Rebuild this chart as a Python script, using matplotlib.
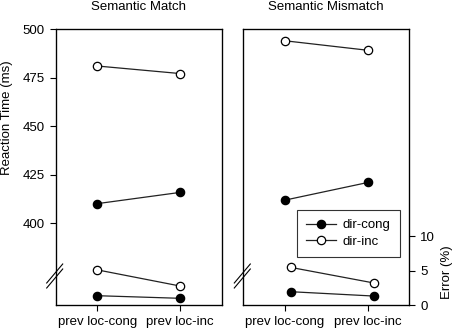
import matplotlib
matplotlib.use('Agg')
from matplotlib import pyplot as plt

plt.rcParams['font.family'] = ['Liberation Sans', 'DejaVu Sans']
plt.rcParams['font.size'] = 9.5

conds = ['prev loc-cong', 'prev loc-inc']
panels = ['Semantic Match', 'Semantic Mismatch']

# reaction times (ms)
rt_cong = [[410.2, 416.0], [412.0, 421.1]]
rt_inc = [[481.1, 477.2], [494.1, 489.2]]

# error rates (%)
err_cong = [[1.35, 0.97], [1.93, 1.3]]
err_inc = [[5.1, 2.75], [5.46, 3.2]]

x = [1, 2]
err_shift = [0.0, 0.07]

W, H = 454.0, 332.0
fig = plt.figure(figsize=(W / 100, H / 100), dpi=100)
lefts = [55.7, 243.3]
bot, top = 305.0, 29.3
aw = 166.0
ah = bot - top

line_kw = dict(color='#222222', lw=0.9, ms=6, mec='black', mew=0.9)

for i in range(2):
    ax = fig.add_axes([lefts[i] / W, (H - bot) / H, aw / W, ah / H])
    ax.set_xlim(0.5, 2.5)
    ax.set_ylim(358, 500)
    ax.set_xticks(x)
    ax.set_xticklabels(conds)
    ax.tick_params(direction='out', length=4, width=0.8, pad=4)
    for s in ax.spines.values():
        s.set_linewidth(0.9)

    ax.plot(x, rt_cong[i], 'o-', mfc='black', label='dir-cong', **line_kw)
    ax.plot(x, rt_inc[i], 'o-', mfc='white', label='dir-inc', **line_kw)

    er = ax.twinx()
    er.set_ylim(0, 40)
    xe = [v + err_shift[i] for v in x]
    er.plot(xe, err_cong[i], 'o-', mfc='black', **line_kw)
    er.plot(xe, err_inc[i], 'o-', mfc='white', **line_kw)

    if i == 0:
        ax.set_yticks([400, 425, 450, 475, 500])
        ax.set_ylabel('Reaction Time (ms)')
        er.set_yticks([])
    else:
        ax.set_yticks([])
        er.set_yticks([0, 5, 10])
        er.tick_params(direction='out', length=4, width=0.8, pad=4)
        ax.legend(loc='upper right', bbox_to_anchor=((400 - lefts[i]) / aw, (bot - 210) / ah),
                  frameon=True, fancybox=False, edgecolor='#333333', framealpha=1,
                  handlelength=2.3, handletextpad=0.5, borderpad=0.7, labelspacing=0.3,
                  borderaxespad=0)
        ax.get_legend().get_frame().set_linewidth(0.8)

    ax.set_title(panels[i], fontsize=9.5, pad=14)

    # axis break marks
    for d in [0, 5]:
        p0 = (-9 / aw, (bot - (283 + d)) / ah)
        p1 = (7 / aw, (bot - (264 + d)) / ah)
        ax.plot([p0[0], p1[0]], [p0[1], p1[1]], color='black', lw=0.8,
                transform=ax.transAxes, clip_on=False)

fig.axes[0].yaxis.set_label_coords(-0.257, 0.68)
fig.text(447 / W, 1 - 272 / H, 'Error (%)', rotation=90, ha='center', va='center')

fig.savefig('out.png', dpi=100)
